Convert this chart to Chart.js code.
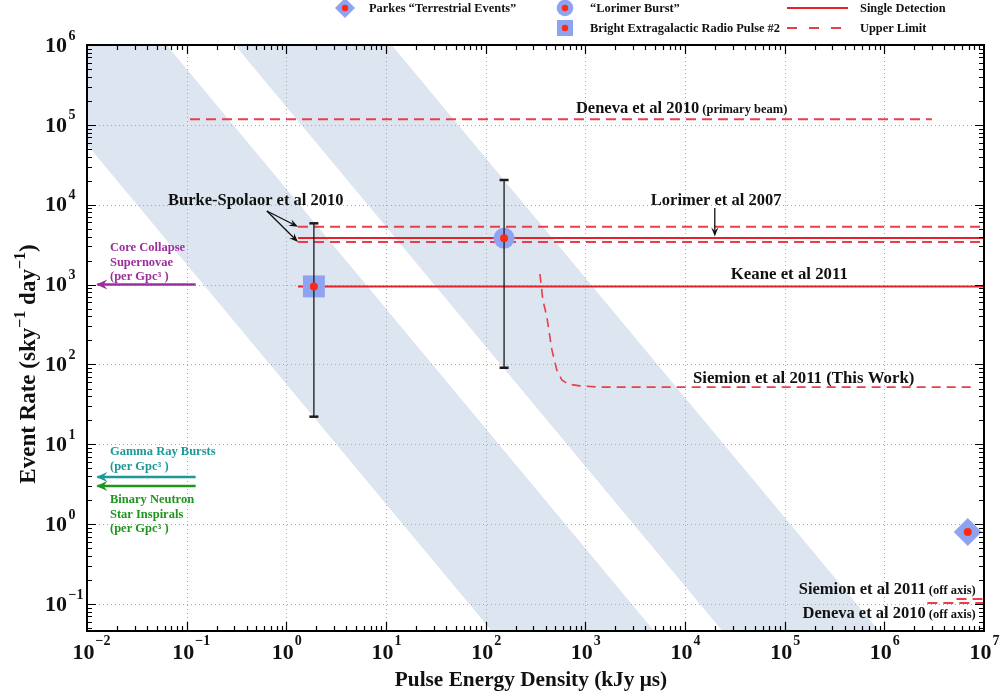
<!DOCTYPE html>
<html>
<head>
<meta charset="utf-8">
<script src="https://cdn.jsdelivr.net/npm/chart.js@4/dist/chart.umd.min.js"></script>
<style>
  html, body { margin: 0; padding: 0; background: #fff; }
  #wrap { width: 1000px; height: 698px; }
</style>
</head>
<body>
<div id="wrap"><canvas id="c" width="1000" height="698"></canvas></div>
<script>
const FONT = "'Liberation Serif','Times New Roman','DejaVu Serif',serif";

// ---------- axes ----------
const xDecades = [-2, -1, 0, 1, 2, 3, 4, 5, 6, 7];
const yDecades = [-1, 0, 1, 2, 3, 4, 5, 6];
const xLimits = [0.01, 1e7];
const yLimits = [0.046, 1e6];

// ---------- constant-fluence bands (corner points) ----------
const bandNearX = [0.00148, 0.063, 13550, 318, 0.00148];
const bandNearY = [1e6, 1e6, 0.01, 0.01, 1e6];
const bandFarX = [0.305, 11.4, 2.45e6, 65600, 0.305];
const bandFarY = [1e6, 1e6, 0.01, 0.01, 1e6];

// ---------- survey limits and detections ----------
const denevaPrimaryX = [0.108, 3.0e6];
const denevaPrimaryY = [1.18e5, 1.18e5];
const burkeHighX = [1.31, 1e7];
const burkeHighY = [5310, 5310];
const burkeLowX = [1.31, 1e7];
const burkeLowY = [3410, 3410];
const lorimerX = [1.31, 1e7];
const lorimerY = [3830, 3830];
const keaneX = [1.31, 1e7];
const keaneY = [950, 950];
const siemionX = [350, 375, 411, 462, 518, 581, 667, 881, 1396, 8.07e6];
const siemionY = [1358, 641, 393, 152, 85, 64, 57, 54, 52, 52];
const siemionOffX = [2.7e6, 1e7];
const siemionOffY = [0.103, 0.103];
const denevaOffX = [5.3e6, 1e7];
const denevaOffY = [0.116, 0.116];

// ---------- individual events ----------
const parkesX = [6.87e6];
const parkesY = [0.80];
const lorimerBurstX = [153];
const lorimerBurstY = [3800];
const lorimerBurstRange = [91, 2.04e4];
const pulse2X = [1.89];
const pulse2Y = [950];
const pulse2Range = [22.2, 5850];

// ---------- astrophysical rates (per Gpc^3) ----------
const rateValues = [1000, 3.9, 3.0];
const rateColors = ['#9c2f9c', '#1f9898', '#1f951f'];
const rateArrowX = [0.0127, 0.123];

const RED = '#e3232c';
const DASHRED = '#e6404b';
const BLUE = '#8fa4f0';
const DOT = '#ff2a14';
const BAND = '#dce5f0';

const pts = (xs, ys) => xs.map((x, i) => ({ x, y: ys[i] }));

function lineSet(id, xs, ys, color, width, dash, order) {
  return { id, data: pts(xs, ys), borderColor: color, borderWidth: width,
           borderDash: dash || [], pointRadius: 0, fill: false, showLine: true, order };
}
function markerSet(xs, ys, style, radius, color, order) {
  return { data: pts(xs, ys), showLine: false, pointStyle: style, pointRadius: radius,
           pointBackgroundColor: color, pointBorderColor: 'rgba(0,0,0,0)', pointBorderWidth: 0,
           borderColor: 'rgba(0,0,0,0)', order };
}
function capSet(x, range) {
  return { data: pts([x, x], range), showLine: false, pointStyle: 'line', pointRadius: 4.5,
           pointBorderColor: '#1a1a1a', pointBorderWidth: 2.5, borderColor: '#1a1a1a', order: 3 };
}
function bandSet(id, xs, ys, order) {
  return { id, data: pts(xs, ys), showLine: true, fill: 'shape', backgroundColor: BAND,
           borderColor: 'rgba(0,0,0,0)', borderWidth: 1, pointRadius: 0, order };
}

const DASH = [10, 6];
const datasets = [
  bandSet('bandNear', bandNearX, bandNearY, 21),
  bandSet('bandFar', bandFarX, bandFarY, 20),
  lineSet('deneva', denevaPrimaryX, denevaPrimaryY, DASHRED, 2, DASH, 6),
  lineSet('burkeHigh', burkeHighX, burkeHighY, DASHRED, 2, DASH, 6),
  lineSet('burkeLow', burkeLowX, burkeLowY, DASHRED, 2, DASH, 6),
  lineSet('lorimer', lorimerX, lorimerY, RED, 2, [], 6),
  lineSet('keane', keaneX, keaneY, RED, 2, [], 6),
  lineSet('siemion', siemionX, siemionY, DASHRED, 1.6, [9, 6], 6),
  lineSet('siemionOff', siemionOffX, siemionOffY, DASHRED, 2, DASH, 6),
  lineSet('denevaOff', denevaOffX, denevaOffY, DASHRED, 2, DASH, 6),
  ...rateValues.map((v, i) => lineSet('rate' + i, rateArrowX, [v, v], rateColors[i], 2.5, [], 6)),
  markerSet(parkesX, parkesY, 'rectRot', 14, BLUE, 4),
  markerSet(lorimerBurstX, lorimerBurstY, 'circle', 10.5, BLUE, 4),
  markerSet(pulse2X, pulse2Y, 'rect', 15.5, BLUE, 4),
  lineSet('errLorimer', [lorimerBurstX[0], lorimerBurstX[0]], lorimerBurstRange, '#1a1a1a', 1.3, [], 3),
  lineSet('errPulse2', [pulse2X[0], pulse2X[0]], pulse2Range, '#1a1a1a', 1.3, [], 3),
  capSet(lorimerBurstX[0], lorimerBurstRange),
  capSet(pulse2X[0], pulse2Range),
  markerSet(parkesX, parkesY, 'circle', 4, DOT, 1),
  markerSet(lorimerBurstX, lorimerBurstY, 'circle', 4, DOT, 1),
  markerSet(pulse2X, pulse2Y, 'circle', 4, DOT, 1)
];

// ---------- text annotations (anchored in data coordinates) ----------
const notes = [
  { lines: [[['Deneva et al 2010', 16.5], [' (primary beam)', 12.5]]], x: 804, y: 1.67e5, align: 'left', color: '#111' },
  { lines: [[['Burke-Spolaor et al 2010', 16.5]]], x: 0.0649, y: 1.18e4, align: 'left', color: '#111' },
  { lines: [[['Lorimer et al 2007', 16.5]]], x: 4540, y: 1.15e4, align: 'left', color: '#111' },
  { lines: [[['Keane et al 2011', 16.8]]], x: 2.88e4, y: 1396, align: 'left', color: '#111' },
  { lines: [[['Siemion et al 2011 (This Work)', 16.8]]], x: 1.2e4, y: 69.7, align: 'left', color: '#111' },
  { lines: [[['Siemion et al 2011', 16.5], [' (off axis)', 12.5]]], x: 8.26e6, y: 0.159, align: 'right', color: '#111' },
  { lines: [[['Deneva et al 2010', 16.5], [' (off axis)', 12.5]]], x: 8.26e6, y: 0.0794, align: 'right', color: '#111' },
  { lines: [[['Core Collapse', 12.5]], [['Supernovae', 12.5]], [['(per Gpc³ )', 12.5]]], x: 0.017, y: 2960, align: 'left', color: rateColors[0] },
  { lines: [[['Gamma Ray Bursts', 12.5]], [['(per Gpc³ )', 12.5]]], x: 0.017, y: 8.24, align: 'left', color: rateColors[1] },
  { lines: [[['Binary Neutron', 12.5]], [['Star Inspirals', 12.5]], [['(per Gpc³ )', 12.5]]], x: 0.017, y: 2.07, align: 'left', color: rateColors[2] }
];
const pointers = [
  { from: [0.638, 8340], to: [1.31, 5310] },
  { from: [0.638, 8340], to: [1.31, 3410] },
  { from: [1.99e4, 9100], to: [1.99e4, 4000] }
];

function drawRich(ctx, parts, x, centerY, align, color) {
  const main = parts[0][1];
  const base = centerY + main * 0.34;
  let w = 0;
  const ws = parts.map(p => { ctx.font = `bold ${p[1]}px ${FONT}`; const m = ctx.measureText(p[0]).width; w += m; return m; });
  let cx = align === 'right' ? x - w : align === 'center' ? x - w / 2 : x;
  ctx.fillStyle = color;
  ctx.textAlign = 'left';
  ctx.textBaseline = 'alphabetic';
  parts.forEach((p, i) => {
    ctx.font = `bold ${p[1]}px ${FONT}`;
    ctx.fillText(p[0], cx, base - (p[2] || 0));
    cx += ws[i];
  });
}

function arrowHead(ctx, tx, ty, fx, fy, len, half, color) {
  const a = Math.atan2(ty - fy, tx - fx);
  ctx.save();
  ctx.translate(tx, ty);
  ctx.rotate(a);
  ctx.beginPath();
  ctx.moveTo(0, 0);
  ctx.lineTo(-len, -half);
  ctx.lineTo(-len * 0.65, 0);
  ctx.lineTo(-len, half);
  ctx.closePath();
  ctx.fillStyle = color;
  ctx.fill();
  ctx.restore();
}

function drawGrid(chart) {
  const { ctx, chartArea: a, scales: { x, y } } = chart;
  ctx.save();
  ctx.strokeStyle = '#a8a8a8';
  ctx.lineWidth = 1;
  ctx.setLineDash([1, 3]);
  xDecades.forEach(d => {
    const px = Math.round(x.getPixelForValue(Math.pow(10, d))) + 0.5;
    if (px <= a.left + 2 || px >= a.right - 2) return;
    ctx.beginPath(); ctx.moveTo(px, a.top); ctx.lineTo(px, a.bottom); ctx.stroke();
  });
  yDecades.forEach(d => {
    const py = Math.round(y.getPixelForValue(Math.pow(10, d))) + 0.5;
    if (py <= a.top + 2 || py >= a.bottom - 2) return;
    ctx.beginPath(); ctx.moveTo(a.left, py); ctx.lineTo(a.right, py); ctx.stroke();
  });
  ctx.restore();
}

function expText(d) { return d < 0 ? '\u2212' + Math.abs(d) : String(d); }

const decor = {
  id: 'decor',
  afterDatasetDraw(chart, args) {
    if (chart.data.datasets[args.index].id === 'bandFar') drawGrid(chart);
  },
  afterDraw(chart) {
    const { ctx, chartArea: a, scales: { x, y } } = chart;
    ctx.save();

    // arrowheads on the rate markers
    rateValues.forEach((v, i) => {
      const tx = x.getPixelForValue(rateArrowX[0]);
      const ty = y.getPixelForValue(v);
      arrowHead(ctx, tx - 1, ty, tx + 20, ty, 11, 5, rateColors[i]);
    });

    // annotation pointers
    ctx.strokeStyle = '#111';
    ctx.lineWidth = 1.3;
    pointers.forEach(p => {
      const fx = x.getPixelForValue(p.from[0]), fy = y.getPixelForValue(p.from[1]);
      const tx = x.getPixelForValue(p.to[0]), ty = y.getPixelForValue(p.to[1]);
      const ang = Math.atan2(ty - fy, tx - fx);
      ctx.beginPath(); ctx.moveTo(fx, fy); ctx.lineTo(tx - Math.cos(ang) * 6, ty - Math.sin(ang) * 6); ctx.stroke();
      arrowHead(ctx, tx, ty, fx, fy, 9, 3.5, '#111');
    });

    // text annotations
    notes.forEach(n => {
      const px = x.getPixelForValue(n.x), py = y.getPixelForValue(n.y);
      n.lines.forEach((ln, i) => drawRich(ctx, ln, px, py + i * 14.5, n.align, n.color));
    });

    // frame
    ctx.strokeStyle = '#000';
    ctx.lineWidth = 2;
    ctx.setLineDash([]);
    ctx.strokeRect(a.left, a.top, a.right - a.left, a.bottom - a.top);

    // ticks on all four sides
    ctx.lineWidth = 1.2;
    for (let d = -3; d <= 7; d++) {
      for (let k = 1; k <= 9; k++) {
        const v = k * Math.pow(10, d);
        const len = k === 1 ? 9 : 5;
        if (v > xLimits[0] * 1.001 && v < xLimits[1] * 0.999) {
          const px = Math.round(x.getPixelForValue(v)) + 0.5;
          ctx.beginPath();
          ctx.moveTo(px, a.bottom); ctx.lineTo(px, a.bottom - len);
          ctx.moveTo(px, a.top); ctx.lineTo(px, a.top + len);
          ctx.stroke();
        }
        if (v > yLimits[0] * 1.001 && v < yLimits[1] * 0.999) {
          const py = Math.round(y.getPixelForValue(v)) + 0.5;
          ctx.beginPath();
          ctx.moveTo(a.left, py); ctx.lineTo(a.left + len, py);
          ctx.moveTo(a.right, py); ctx.lineTo(a.right - len, py);
          ctx.stroke();
        }
      }
    }

    // tick labels
    ctx.fillStyle = '#111';
    ctx.textBaseline = 'middle';
    xDecades.forEach(d => {
      const px = x.getPixelForValue(Math.pow(10, d));
      ctx.font = `bold 22px ${FONT}`;
      ctx.textAlign = 'center';
      const w = ctx.measureText('10').width;
      ctx.fillText('10', px - 3.5, 653);
      ctx.font = `bold 14px ${FONT}`;
      ctx.textAlign = 'left';
      ctx.fillText(expText(d), px - 3.5 + w / 2 + 1, 641);
    });
    yDecades.forEach(d => {
      const py = y.getPixelForValue(Math.pow(10, d));
      ctx.font = `bold 22px ${FONT}`;
      ctx.textAlign = 'left';
      const w = ctx.measureText('10').width;
      ctx.fillText('10', 45, py + 1);
      ctx.font = `bold 14px ${FONT}`;
      ctx.fillText(expText(d), 45 + w + 1.5, py - 9);
    });

    // axis titles
    drawRich(ctx, [['Pulse Energy Density (kJy \u03bcs)', 21.3]], 531, 679, 'center', '#111');
    ctx.save();
    ctx.translate(27, 364);
    ctx.rotate(-Math.PI / 2);
    drawRich(ctx, [['Event Rate (sky', 23], ['\u22121', 16, 10], [' day', 23], ['\u22121', 16, 10], [')', 23]], 0, 0, 'center', '#111');
    ctx.restore();

    // legend
    const lx1 = 345, lx2 = 565, lx3 = 787, r1 = 8, r2 = 28;
    ctx.fillStyle = BLUE;
    ctx.beginPath();
    ctx.moveTo(lx1, r1 - 10); ctx.lineTo(lx1 + 10, r1); ctx.lineTo(lx1, r1 + 10); ctx.lineTo(lx1 - 10, r1); ctx.closePath(); ctx.fill();
    ctx.beginPath(); ctx.arc(lx2, r1, 8.3, 0, Math.PI * 2); ctx.fill();
    ctx.fillRect(lx2 - 8, r2 - 8, 16, 16);
    ctx.fillStyle = DOT;
    [[lx1, r1], [lx2, r1], [lx2, r2]].forEach(p => { ctx.beginPath(); ctx.arc(p[0], p[1], 3.2, 0, Math.PI * 2); ctx.fill(); });
    ctx.lineWidth = 2;
    ctx.strokeStyle = RED;
    ctx.beginPath(); ctx.moveTo(lx3, r1); ctx.lineTo(lx3 + 61, r1); ctx.stroke();
    ctx.strokeStyle = DASHRED;
    ctx.setLineDash([10, 12]);
    ctx.beginPath(); ctx.moveTo(lx3, r2); ctx.lineTo(lx3 + 61, r2); ctx.stroke();
    ctx.setLineDash([]);
    drawRich(ctx, [['Parkes \u201cTerrestrial Events\u201d', 12.4]], 369, r1, 'left', '#111');
    drawRich(ctx, [['\u201cLorimer Burst\u201d', 12.4]], 590, r1, 'left', '#111');
    drawRich(ctx, [['Bright Extragalactic Radio Pulse #2', 12.4]], 590, r2, 'left', '#111');
    drawRich(ctx, [['Single Detection', 12.4]], 860, r1, 'left', '#111');
    drawRich(ctx, [['Upper Limit', 12.4]], 860, r2, 'left', '#111');

    ctx.restore();
  }
};

new Chart(document.getElementById('c'), {
  type: 'line',
  data: { datasets },
  options: {
    responsive: false,
    animation: false,
    devicePixelRatio: 1,
    layout: { padding: { left: 87, right: 16, top: 45, bottom: 67 } },
    scales: {
      x: { type: 'logarithmic', min: xLimits[0], max: xLimits[1], display: false },
      y: { type: 'logarithmic', min: yLimits[0], max: yLimits[1], display: false }
    },
    plugins: { legend: { display: false }, tooltip: { enabled: false } },
    elements: { line: { tension: 0 } },
    events: []
  },
  plugins: [decor]
});
</script>
</body>
</html>
